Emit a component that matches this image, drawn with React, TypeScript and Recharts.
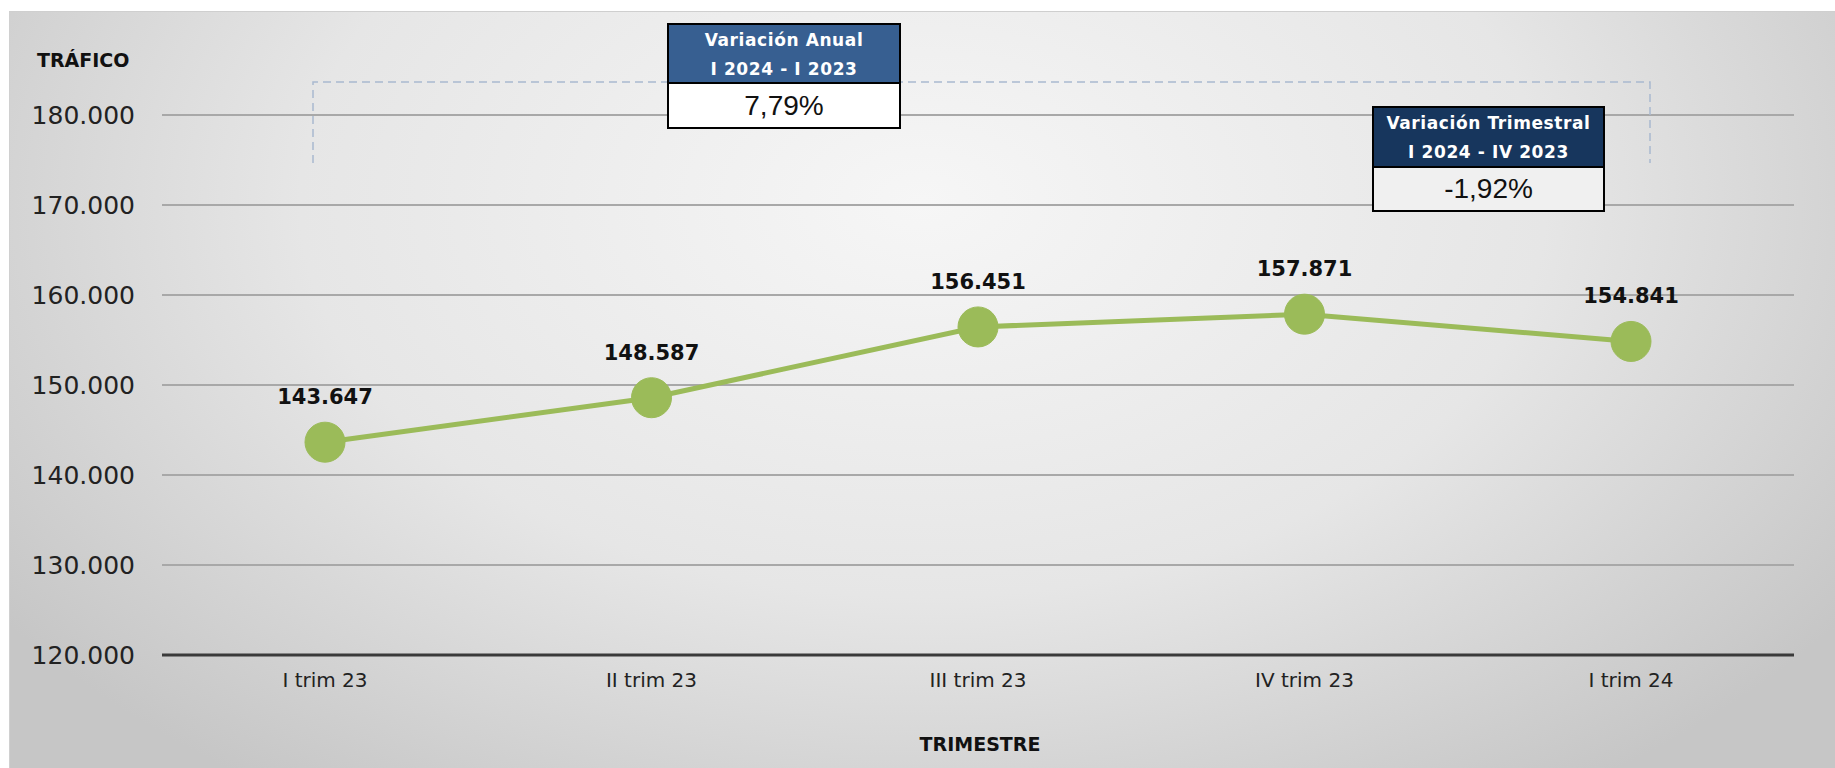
import React from "react";
import {
  LineChart, Line, XAxis, YAxis, CartesianGrid, LabelList
} from "recharts";

const trimestres = ["I trim 23", "II trim 23", "III trim 23", "IV trim 23", "I trim 24"];
const trafico = [143647, 148587, 156451, 157871, 154841];
const yTicks = [120000, 130000, 140000, 150000, 160000, 170000, 180000];

const anualTitulo = ["Variación Anual", "I 2024 - I 2023"];
const anualValor = "7,79%";
const trimTitulo = ["Variación Trimestral", "I 2024 - IV 2023"];
const trimValor = "-1,92%";

const fmt = (v: number) => v.toLocaleString("de-DE");

const FONT = "'DejaVu Sans', sans-serif";

const chartData = trimestres.map((t, i) => ({ trimestre: t, trafico: trafico[i] }));

const DataLabel = (props: any) => {
  const { x, y, value } = props;
  return (
    <text x={x} y={y - 38} textAnchor="middle" fontFamily={FONT} fontWeight="bold"
      fontSize={21} fill="#111">
      {fmt(value)}
    </text>
  );
};

const Box = ({ left, top, width, headH, valH, bg, valBg, title, value }: any) => (
  <div style={{
    position: "absolute", left, top, width, border: "2px solid #000",
    boxSizing: "border-box", background: valBg
  }}>
    <div style={{
      height: headH, background: bg, color: "#fff", fontFamily: FONT, fontWeight: "bold",
      fontSize: 17, lineHeight: "29px", textAlign: "center", borderBottom: "2px solid #000",
      boxSizing: "border-box", paddingTop: 1, letterSpacing: 0.6, whiteSpace: "nowrap"
    }}>
      {title.map((l: string) => <div key={l}>{l}</div>)}
    </div>
    <div style={{
      height: valH, fontFamily: "'Liberation Sans', Arial, sans-serif", fontSize: 28,
      lineHeight: valH + "px", textAlign: "center", color: "#111"
    }}>
      {value}
    </div>
  </div>
);

export default function App() {
  return (
    <div style={{ position: "absolute", left: 0, top: 0, width: 1835, height: 768, background: "#fff", overflow: "hidden" }}>
      <div style={{
        position: "absolute", left: 9, top: 11, width: 1826, height: 757,
        borderTop: "1px solid #cfcfcf", borderLeft: "1px solid #d0d0d0",
        background: "radial-gradient(ellipse 62% 95% at 50% 25%, #f6f6f6 0%, #e6e6e6 55%, #c6c6c6 100%)"
      }} />
      <div style={{ position: "absolute", left: 0, top: 0 }}>
        <LineChart width={1835} height={768} data={chartData}
          margin={{ top: 115, right: 41, bottom: 83, left: 12 }}>
          <CartesianGrid vertical={false} stroke="#a8a8a8" strokeWidth={2} />
          <XAxis dataKey="trimestre" axisLine={{ stroke: "#3a3a3a", strokeWidth: 3 }}
            padding={{ left: 163, right: 163 }} height={30}
            tickLine={false} tickSize={0} tickMargin={18} interval={0}
            tick={{ fontFamily: FONT, fontSize: 20, fill: "#222" }} />
          <YAxis type="number" domain={[120000, 180000]} ticks={yTicks} width={150}
            axisLine={false} tickLine={false} tickSize={0} tickMargin={27}
            tickFormatter={fmt} tick={{ fontFamily: FONT, fontSize: 25, fill: "#222" }} />
          <Line type="linear" dataKey="trafico" stroke="#9bbb59" strokeWidth={5}
            dot={{ r: 20, fill: "#9bbb59", stroke: "#9bbb59", strokeWidth: 1 }}
            isAnimationActive={false}>
            <LabelList dataKey="trafico" content={DataLabel} />
          </Line>
        </LineChart>
      </div>
      <div style={{ position: "absolute", left: 37, top: 49, fontFamily: FONT, fontWeight: "bold", fontSize: 19, color: "#111" }}>
        TRÁFICO
      </div>
      <div style={{ position: "absolute", left: 880, width: 200, top: 733, textAlign: "center", fontFamily: FONT, fontWeight: "bold", fontSize: 19, color: "#111" }}>
        TRIMESTRE
      </div>
      <svg style={{ position: "absolute", left: 0, top: 0 }} width={1835} height={768}>
        <polyline points="313,163 313,82 1650,82 1650,163" fill="none" stroke="#a9b9cf"
          strokeWidth={1.5} strokeDasharray="8 5" />
      </svg>
      <Box left={667} top={23} width={234} headH={59} valH={43} bg="#375f91" valBg="#fff"
        title={anualTitulo} value={anualValor} />
      <Box left={1372} top={106} width={233} headH={60} valH={42} bg="#17365d" valBg="#f0f0f0"
        title={trimTitulo} value={trimValor} />
    </div>
  );
}
